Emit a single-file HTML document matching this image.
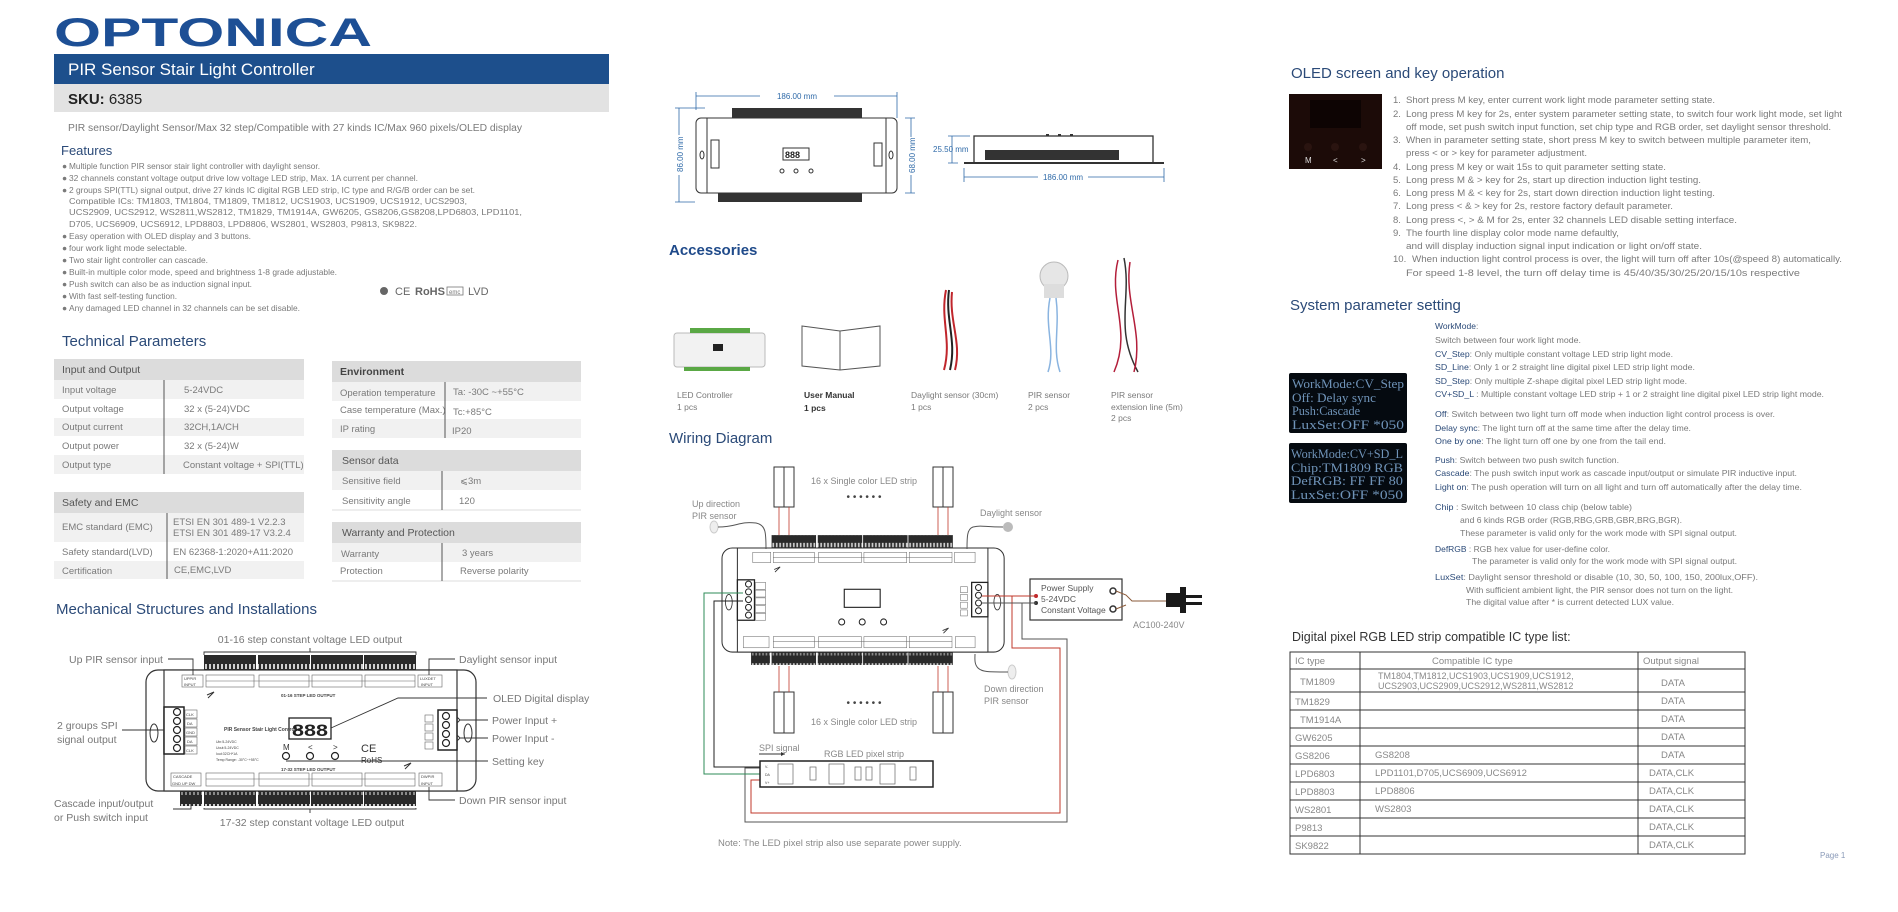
<!DOCTYPE html>
<html><head><meta charset="utf-8"><style>
html,body{margin:0;padding:0;background:#fff;}
svg{display:block;font-family:"Liberation Sans",sans-serif;}
.g{fill:#7a7a7a;}
.h{fill:#2b4a78;}
.lb{fill:#2b4a78;}
</style></head><body>
<svg width="1898" height="912" viewBox="0 0 1898 912" xmlns="http://www.w3.org/2000/svg">
<defs>
<pattern id="tp" width="4" height="20" patternUnits="userSpaceOnUse"><rect width="4" height="20" fill="#2a2a2a"/><rect x="1" y="4" width="2" height="5" fill="#cfcfcf"/><rect x="1" y="12" width="2" height="3" fill="#8a8a8a"/></pattern>
<pattern id="tp2" width="3" height="20" patternUnits="userSpaceOnUse"><rect width="3" height="20" fill="#333"/><rect x="1" y="2" width="1" height="4" fill="#ddd"/></pattern>
<g id="dev">
<rect x="146" y="670" width="330" height="121" rx="12" fill="#fff" stroke="#333" stroke-width="1.2"/>
<rect x="164" y="670" width="293" height="121" fill="#fff" stroke="#333" stroke-width="1.2"/>
<ellipse cx="154" cy="733" rx="4" ry="9" fill="none" stroke="#333"/>
<ellipse cx="468" cy="733" rx="4" ry="9" fill="none" stroke="#333"/>
<rect x="204" y="655" width="52" height="15" fill="url(#tp)"/><rect x="258" y="655" width="52" height="15" fill="url(#tp)"/><rect x="311" y="655" width="52" height="15" fill="url(#tp)"/><rect x="364" y="655" width="52" height="15" fill="url(#tp)"/>
<rect x="204" y="791" width="52" height="15" fill="url(#tp)"/><rect x="258" y="791" width="52" height="15" fill="url(#tp)"/><rect x="311" y="791" width="52" height="15" fill="url(#tp)"/><rect x="364" y="791" width="52" height="15" fill="url(#tp)"/>
<rect x="180" y="791" width="22" height="15" fill="url(#tp)"/>
<g fill="none" stroke="#666" stroke-width="0.6">
<rect x="182" y="675" width="21" height="12"/><rect x="418" y="675" width="24" height="12"/>
<rect x="206" y="675" width="48" height="12"/><rect x="259" y="675" width="50" height="12"/><rect x="312" y="675" width="50" height="12"/><rect x="365" y="675" width="50" height="12"/>
<line x1="206" y1="681" x2="415" y2="681"/>
<rect x="171" y="773" width="30" height="13"/><rect x="419" y="773" width="23" height="13"/>
<rect x="206" y="773" width="48" height="13"/><rect x="259" y="773" width="50" height="13"/><rect x="312" y="773" width="50" height="13"/><rect x="365" y="773" width="50" height="13"/>
<line x1="206" y1="779" x2="415" y2="779"/>
<rect x="185" y="710" width="12" height="8"/><rect x="185" y="719" width="12" height="8"/><rect x="185" y="728" width="12" height="8"/><rect x="185" y="737" width="12" height="8"/><rect x="185" y="746" width="12" height="8"/>
<rect x="425" y="715" width="8" height="7"/><rect x="425" y="724" width="8" height="7"/><rect x="425" y="733" width="8" height="7"/><rect x="425" y="742" width="8" height="7"/>
</g>
<rect x="164" y="707" width="20" height="47" fill="#fff" stroke="#222" stroke-width="1.5"/>
<g fill="#fff" stroke="#222" stroke-width="1.2"><circle cx="177" cy="712" r="3.5"/><circle cx="177" cy="721" r="3.5"/><circle cx="177" cy="730" r="3.5"/><circle cx="177" cy="739" r="3.5"/><circle cx="177" cy="748" r="3.5"/></g>
<rect x="438" y="710" width="19" height="40" fill="#fff" stroke="#222" stroke-width="1.5"/>
<g fill="#fff" stroke="#222" stroke-width="1.2"><circle cx="446" cy="716" r="3.5"/><circle cx="446" cy="725" r="3.5"/><circle cx="446" cy="734" r="3.5"/><circle cx="446" cy="743" r="3.5"/></g>
<rect x="289" y="718" width="42" height="21" fill="#fff" stroke="#222" stroke-width="1.3"/>
<g fill="none" stroke="#222" stroke-width="1.2"><circle cx="286" cy="756" r="3.5"/><circle cx="310" cy="756" r="3.5"/><circle cx="335" cy="756" r="3.5"/></g>
<path d="M207 695 l7 -3 l-6 6" fill="none" stroke="#333"/>
<path d="M404 766 l7 -3 l-6 6" fill="none" stroke="#333"/>
</g>
</defs>

<!-- LOGO / header -->
<text x="54" y="46" font-size="40" font-weight="bold" fill="#1d4f95" textLength="318" lengthAdjust="spacingAndGlyphs">OPTONICA</text>
<rect x="54" y="54" width="555" height="30" fill="#1d4f8c"/>
<text x="68" y="75" font-size="17" fill="#fff">PIR Sensor Stair Light Controller</text>
<rect x="54" y="84" width="555" height="28" fill="#e2e2e2"/>
<text x="68" y="104" font-size="15" fill="#222"><tspan font-weight="bold">SKU:</tspan> 6385</text>
<text x="68" y="131" font-size="10" class="g" textLength="454" lengthAdjust="spacingAndGlyphs">PIR sensor/Daylight Sensor/Max 32 step/Compatible with 27 kinds IC/Max 960 pixels/OLED display</text>
<text x="61" y="155" font-size="13" class="h">Features</text>
<g font-size="8.5" class="g">
<text x="62" y="169">●</text><text x="69" y="169" textLength="251" lengthAdjust="spacingAndGlyphs">Multiple function PIR sensor stair light controller with daylight sensor.</text>
<text x="62" y="181">●</text><text x="69" y="181" textLength="349" lengthAdjust="spacingAndGlyphs">32 channels constant voltage output drive low voltage LED strip, Max. 1A current per channel.</text>
<text x="62" y="193">●</text><text x="69" y="193" textLength="406" lengthAdjust="spacingAndGlyphs">2 groups SPI(TTL) signal output, drive 27 kinds IC digital RGB LED strip, IC type and R/G/B order can be set.</text>
<text x="69" y="204" textLength="398" lengthAdjust="spacingAndGlyphs">Compatible ICs: TM1803, TM1804, TM1809, TM1812, UCS1903, UCS1909, UCS1912, UCS2903,</text>
<text x="69" y="215" textLength="453" lengthAdjust="spacingAndGlyphs">UCS2909, UCS2912, WS2811,WS2812, TM1829, TM1914A, GW6205, GS8206,GS8208,LPD6803, LPD1101,</text>
<text x="69" y="227" textLength="348" lengthAdjust="spacingAndGlyphs">D705, UCS6909, UCS6912, LPD8803, LPD8806, WS2801, WS2803, P9813, SK9822.</text>
<text x="62" y="239">●</text><text x="69" y="239" textLength="182" lengthAdjust="spacingAndGlyphs">Easy operation with OLED display and 3 buttons.</text>
<text x="62" y="251">●</text><text x="69" y="251" textLength="118" lengthAdjust="spacingAndGlyphs">four work light mode selectable.</text>
<text x="62" y="263">●</text><text x="69" y="263" textLength="139" lengthAdjust="spacingAndGlyphs">Two stair light controller can cascade.</text>
<text x="62" y="275">●</text><text x="69" y="275" textLength="268" lengthAdjust="spacingAndGlyphs">Built-in multiple color mode, speed and brightness 1-8 grade adjustable.</text>
<text x="62" y="287">●</text><text x="69" y="287" textLength="183" lengthAdjust="spacingAndGlyphs">Push switch can also be as induction signal input.</text>
<text x="62" y="299">●</text><text x="69" y="299" textLength="108" lengthAdjust="spacingAndGlyphs">With fast self-testing function.</text>
<text x="62" y="311">●</text><text x="69" y="311" textLength="231" lengthAdjust="spacingAndGlyphs">Any damaged LED channel in 32 channels can be set disable.</text>
</g>
<circle cx="384" cy="291" r="4" fill="#666"/>
<text x="395" y="295" font-size="11" fill="#666">CE</text>
<text x="415" y="295" font-size="11" font-weight="bold" fill="#666">RoHS</text>
<rect x="447" y="287" width="16" height="8" fill="none" stroke="#777" stroke-width="0.8"/><text x="449" y="294" font-size="6" fill="#777">emc</text>
<text x="468" y="295" font-size="11" fill="#666">LVD</text>

<!-- Technical Parameters -->
<text x="62" y="346" font-size="15" class="h">Technical Parameters</text>
<g font-size="9.5" class="g">
<rect x="54" y="359" width="250" height="21" fill="#dcdcdc"/><text x="62" y="373" fill="#555" font-size="10.5">Input and Output</text>
<rect x="54" y="380" width="250" height="19" fill="#f1f1f1"/><rect x="54" y="418" width="250" height="18" fill="#f1f1f1"/><rect x="54" y="455" width="250" height="19" fill="#f1f1f1"/>
<line x1="164" y1="380" x2="164" y2="474" stroke="#555"/>
<text x="62" y="393">Input voltage</text><text x="184" y="393">5-24VDC</text>
<text x="62" y="412">Output voltage</text><text x="184" y="412">32 x (5-24)VDC</text>
<text x="62" y="430">Output current</text><text x="184" y="430">32CH,1A/CH</text>
<text x="62" y="449">Output power</text><text x="184" y="449">32 x (5-24)W</text>
<text x="62" y="468">Output type</text><text x="183" y="468">Constant voltage + SPI(TTL)</text>

<rect x="54" y="492" width="250" height="21" fill="#dcdcdc"/><text x="62" y="506" fill="#555" font-size="10.5">Safety and EMC</text>
<rect x="54" y="513" width="250" height="29" fill="#f1f1f1"/><rect x="54" y="561" width="250" height="18" fill="#f1f1f1"/>
<line x1="167" y1="513" x2="167" y2="579" stroke="#555"/>
<text x="62" y="530">EMC standard (EMC)</text><text x="173" y="525">ETSI EN 301 489-1 V2.2.3</text><text x="173" y="536">ETSI EN 301 489-17 V3.2.4</text>
<text x="62" y="555">Safety standard(LVD)</text><text x="173" y="555">EN 62368-1:2020+A11:2020</text>
<text x="62" y="574">Certification</text><text x="174" y="573">CE,EMC,LVD</text>

<rect x="332" y="361" width="249" height="21" fill="#dcdcdc"/><text x="340" y="375" fill="#444" font-size="10.5" font-weight="bold">Environment</text>
<rect x="332" y="382" width="249" height="19" fill="#f1f1f1"/><rect x="332" y="419" width="249" height="19" fill="#f1f1f1"/>
<line x1="445" y1="382" x2="445" y2="438" stroke="#555"/>
<text x="340" y="396">Operation temperature</text><text x="453" y="395">Ta: -30C ~+55°C</text>
<text x="340" y="413">Case temperature (Max.)</text><text x="453" y="415">Tc:+85°C</text>
<text x="340" y="432">IP rating</text><text x="452" y="434">IP20</text>

<rect x="332" y="450" width="249" height="21" fill="#dcdcdc"/><text x="342" y="464" fill="#555" font-size="10.5">Sensor data</text>
<rect x="332" y="471" width="249" height="19" fill="#f1f1f1"/><rect x="332" y="509" width="249" height="2" fill="#eee"/>
<line x1="442" y1="471" x2="442" y2="510" stroke="#555"/>
<text x="342" y="484">Sensitive field</text><text x="460" y="484">⩽3m</text>
<text x="342" y="504">Sensitivity angle</text><text x="459" y="504">120</text>

<rect x="332" y="522" width="249" height="21" fill="#dcdcdc"/><text x="342" y="536" fill="#555" font-size="10.5">Warranty and Protection</text>
<rect x="332" y="543" width="249" height="19" fill="#f1f1f1"/><rect x="332" y="580" width="249" height="2" fill="#eee"/>
<line x1="442" y1="543" x2="442" y2="581" stroke="#555"/>
<text x="341" y="557">Warranty</text><text x="462" y="556">3 years</text>
<text x="340" y="574">Protection</text><text x="460" y="574">Reverse polarity</text>
</g>

<!-- Mechanical -->
<text x="56" y="614" font-size="15" class="h">Mechanical Structures and Installations</text>
<use href="#dev"/>
<g font-size="4" fill="#444">
<text x="184" y="680">UPPIR</text><text x="184" y="686">INPUT</text>
<text x="420" y="680">LUXDET</text><text x="421" y="686">INPUT</text>
<text x="281" y="697" font-size="4.5" font-weight="bold">01-16 STEP LED OUTPUT</text>
<text x="224" y="731" font-size="5" font-weight="bold">PIR Sensor Stair Light Controller</text>
<text x="216" y="743" font-size="3.5">Uin:5-24VDC</text><text x="216" y="749" font-size="3.5">Uout:5-24VDC</text><text x="216" y="755" font-size="3.5">Iout:32CH*1A</text><text x="216" y="761" font-size="3.5">Temp Range: -30°C~+55°C</text>
<text x="281" y="771" font-size="4.5" font-weight="bold">17-32 STEP LED OUTPUT</text>
<text x="173" y="778">CASCADE</text><text x="172" y="785">GND UP DW</text>
<text x="421" y="778">DWPIR</text><text x="421" y="785">INPUT</text>
<text x="186" y="716">CLK</text><text x="187" y="725">DA</text><text x="186" y="734">GND</text><text x="187" y="743">DA</text><text x="186" y="752">CLK</text>
</g>
<text x="292" y="736" font-size="17" font-weight="bold" fill="#222" textLength="36" lengthAdjust="spacingAndGlyphs">888</text>
<g font-size="8" fill="#333"><text x="283" y="750">M</text><text x="308" y="750">&lt;</text><text x="333" y="750">&gt;</text></g>
<text x="361" y="752" font-size="11" fill="#333">CE</text><text x="361" y="763" font-size="8" fill="#333">RoHS</text>
<g font-size="10.5" fill="#777">
<text x="310" y="643" text-anchor="middle">01-16 step constant voltage LED output</text>
<text x="69" y="663">Up PIR sensor input</text>
<text x="459" y="663">Daylight sensor input</text>
<text x="493" y="702">OLED Digital display</text>
<text x="492" y="724">Power Input +</text>
<text x="492" y="742">Power Input -</text>
<text x="492" y="765">Setting key</text>
<text x="57" y="729">2 groups SPI</text>
<text x="57" y="743">signal output</text>
<text x="54" y="807">Cascade input/output</text>
<text x="54" y="821">or Push switch input</text>
<text x="459" y="804">Down PIR sensor input</text>
<text x="312" y="826" text-anchor="middle">17-32 step constant voltage LED output</text>
</g>
<g fill="none" stroke="#333" stroke-width="0.9">
<path d="M204 655 v-3 h212 v3 M310 652 v-4"/>
<path d="M204 808 v1 h212 v-1 M310 809 v4"/>
<path d="M168 659 h25 v16"/>
<path d="M455 659 h-26 v16"/>
<path d="M487 698 h-89 l-67 30"/>
<path d="M488 720 h-28 l-3 -3 M460 720 l-3 3"/>
<path d="M488 738 h-28 l-3 -3 M460 738 l-3 3"/>
<path d="M488 761 h-202"/>
<path d="M122 730 h42"/>
<path d="M173 809 h18 v-5"/>
<path d="M455 800 h-26 v-13"/>
</g>

<!-- Dimension drawings -->
<g stroke="#2f6aa8" stroke-width="0.8" fill="none">
<path d="M696 96 h201 M696 92 v18 M897 92 v26"/>
<path d="M679 108 v94 M675 108 h30 M675 202 h20"/>
<path d="M911 118 v75 M905 118 h10 M905 193 h10"/>
<path d="M952 136 v27 M948 136 h22 M948 163 h10"/>
<path d="M964 177 h200 M964 168 v14 M1164 168 v14"/>
</g>
<rect x="760" y="91" width="74" height="10" fill="#fff"/>
<text x="797" y="99" font-size="8" fill="#2f6aa8" text-anchor="middle">186.00 mm</text>
<rect x="1038" y="172" width="50" height="10" fill="#fff"/>
<text x="1063" y="180" font-size="8" fill="#2f6aa8" text-anchor="middle">186.00 mm</text>
<text x="933" y="152" font-size="8" fill="#2f6aa8">25.50 mm</text>
<rect x="674" y="135" width="10" height="40" fill="#fff"/><rect x="906" y="137" width="10" height="38" fill="#fff"/>
<text transform="translate(683,172) rotate(-90)" font-size="8" fill="#2f6aa8">86.00 mm</text>
<text transform="translate(915,173) rotate(-90)" font-size="8" fill="#2f6aa8">68.00 mm</text>
<rect x="696" y="118" width="201" height="75" rx="5" fill="#fff" stroke="#333"/>
<rect x="707" y="118" width="179" height="75" fill="#fff" stroke="#333"/>
<rect x="732" y="108" width="130" height="10" fill="url(#tp2)"/>
<rect x="718" y="193" width="144" height="9" fill="url(#tp2)"/>
<rect x="711" y="140" width="8" height="28" fill="#fff" stroke="#333"/><rect x="874" y="143" width="8" height="23" fill="#fff" stroke="#333"/>
<ellipse cx="702" cy="155" rx="2" ry="4" fill="none" stroke="#333"/><ellipse cx="891" cy="155" rx="2" ry="4" fill="none" stroke="#333"/>
<rect x="783" y="148" width="26" height="12" fill="#fff" stroke="#333"/><text x="785" y="158" font-size="9" font-weight="bold" fill="#222">888</text>
<g fill="none" stroke="#333"><circle cx="782" cy="171" r="2"/><circle cx="796" cy="171" r="2"/><circle cx="811" cy="171" r="2"/></g>
<rect x="974" y="136" width="179" height="27" fill="#fff" stroke="#333" stroke-width="1.3"/>
<rect x="964" y="162" width="200" height="2" fill="#333"/>
<rect x="985" y="150" width="134" height="10" fill="url(#tp2)"/>
<g fill="#333"><rect x="1046" y="134" width="3" height="2"/><rect x="1058" y="134" width="3" height="2"/><rect x="1070" y="134" width="3" height="2"/></g>

<!-- Accessories -->
<text x="669" y="255" font-size="15" font-weight="bold" fill="#1f4a8a">Accessories</text>
<rect x="674" y="333" width="91" height="34" rx="3" fill="#f2f2f2" stroke="#bbb"/>
<rect x="690" y="328" width="60" height="5" fill="#5aa845"/><rect x="684" y="367" width="66" height="4" fill="#5aa845"/>
<rect x="713" y="344" width="10" height="7" fill="#222"/>
<path d="M802 326 l38 5 l40 -5 v40 l-40 4 l-38 -4z M840 331 v39" fill="#fff" stroke="#555"/>
<g fill="none" stroke-width="2"><path d="M946 290 c-6 30 6 50 -2 80" stroke="#c0262c"/><path d="M949 290 c-4 30 8 50 1 80" stroke="#222"/><path d="M952 292 c-3 30 10 50 3 78" stroke="#c0262c"/></g>
<circle cx="1054" cy="276" r="14" fill="#e6e6e6" stroke="#bbb"/><rect x="1044" y="284" width="20" height="14" fill="#ddd"/>
<g fill="none" stroke="#8ab4e0" stroke-width="1.5"><path d="M1050 298 c-6 30 6 50 -2 74"/><path d="M1056 298 c4 30 -4 50 4 74"/></g>
<g fill="none" stroke-width="1.5"><path d="M1118 260 c-10 40 14 70 -4 112" stroke="#b31e3a"/><path d="M1124 258 c8 40 -10 70 14 114" stroke="#333"/><path d="M1130 262 c-6 40 14 70 4 110" stroke="#b31e3a"/></g>
<g font-size="8.5" class="g">
<text x="677" y="398">LED Controller</text><text x="677" y="410">1 pcs</text>
<text x="804" y="398" fill="#333" font-weight="bold">User Manual</text><text x="804" y="411" fill="#333" font-weight="bold">1 pcs</text>
<text x="911" y="398">Daylight sensor (30cm)</text><text x="911" y="410">1 pcs</text>
<text x="1028" y="398">PIR sensor</text><text x="1028" y="410">2 pcs</text>
<text x="1111" y="398">PIR sensor</text><text x="1111" y="410">extension line (5m)</text><text x="1111" y="421">2 pcs</text>
</g>

<!-- Wiring diagram -->
<text x="669" y="443" font-size="15" class="h">Wiring Diagram</text>
<g fill="#fff" stroke="#333"><rect x="774" y="467" width="10" height="40"/><rect x="784" y="467" width="10" height="40"/><rect x="933" y="467" width="10" height="40"/><rect x="943" y="467" width="10" height="40"/>
<rect x="774" y="692" width="10" height="41"/><rect x="784" y="692" width="10" height="41"/><rect x="933" y="692" width="10" height="41"/><rect x="943" y="692" width="10" height="41"/></g>
<g fill="none" stroke="#c0392b" stroke-width="0.8"><path d="M779 507 v28 M789 507 v28 M938 507 v28 M948 507 v28 M779 666 v26 M789 666 v26 M938 666 v26 M948 666 v26"/></g>
<use href="#dev" transform="translate(722,548) scale(0.855,0.86) translate(-146,-670)"/>
<g font-size="9" fill="#888">
<text x="864" y="484" text-anchor="middle">16 x Single color LED strip</text>
<text x="864" y="500" text-anchor="middle" font-size="10" fill="#444">• • • • • •</text>
<text x="692" y="507">Up direction</text><text x="692" y="519">PIR sensor</text>
<text x="980" y="516">Daylight sensor</text>
<text x="984" y="692">Down direction</text><text x="984" y="704">PIR sensor</text>
<text x="864" y="706" text-anchor="middle" font-size="10" fill="#444">• • • • • •</text>
<text x="864" y="725" text-anchor="middle">16 x Single color LED strip</text>
<text x="759" y="751">SPI signal</text>
<text x="864" y="757" text-anchor="middle">RGB LED pixel strip</text>
<text x="1133" y="628">AC100-240V</text>
<text x="718" y="846" font-size="9.5">Note:  The LED pixel strip also use separate power supply.</text>
</g>
<path d="M759 754 h26" stroke="#333"/><path d="M785 754 l-4 -2 v4z" fill="#333"/>
<ellipse cx="714" cy="527" rx="4" ry="6" fill="#eee" stroke="#ccc"/>
<path d="M718 527 c20 0 20 -6 38 -4 c10 2 10 10 10 26" fill="none" stroke="#555"/>
<circle cx="1008" cy="527" r="5" fill="#bbb"/>
<path d="M1003 527 c-20 0 -20 -2 -30 0 c-6 2 -6 10 -6 22" fill="none" stroke="#555"/>
<ellipse cx="1012" cy="672" rx="4" ry="7" fill="#eee" stroke="#ccc"/>
<path d="M1008 672 c-20 0 -26 0 -30 -4 c-4 -4 -3 -10 -3 -14" fill="none" stroke="#555"/>
<rect x="1030" y="579" width="92" height="41" fill="#fff" stroke="#333" stroke-width="1.2"/>
<g font-size="8.5" fill="#555"><text x="1041" y="591">Power Supply</text><text x="1041" y="602">5-24VDC</text><text x="1041" y="613">Constant Voltage</text></g>
<circle cx="1113" cy="591" r="3" fill="#fff" stroke="#333" stroke-width="1.5"/><circle cx="1113" cy="609" r="3" fill="#fff" stroke="#333" stroke-width="1.5"/>
<path d="M1116 591 l10 4 l6 6 l34 0 M1116 609 l10 -4" fill="none" stroke="#8a5a3a"/>
<path d="M1166 593 h14 v-6 h6 v26 h-6 v-6 h-14z" fill="#1a1a1a"/><rect x="1186" y="595" width="16" height="3" fill="#1a1a1a"/><rect x="1186" y="602" width="16" height="3" fill="#1a1a1a"/>
<circle cx="1036" cy="596" r="2" fill="#c0262c"/><circle cx="1036" cy="603" r="2" fill="#333"/>
<path d="M982 596 h54 M1012 596 v52 h48 v165 h-309 v-33 h9" fill="none" stroke="#c0392b" stroke-width="1"/>
<path d="M982 603 h54 M1022 603 v36 h45 v183 h-322 v-54 h15" fill="none" stroke="#555" stroke-width="1"/>
<path d="M868 593 h0" stroke="#333"/>
<path d="M743 593 h-39 v181 h58" fill="none" stroke="#2e8b57" stroke-width="1"/>
<path d="M743 601 h-29 v166 h48" fill="none" stroke="#222" stroke-width="1"/>
<rect x="760" y="761" width="173" height="26" fill="#fff" stroke="#222" stroke-width="1.5"/>
<g fill="none" stroke="#666" stroke-width="0.7"><rect x="778" y="764" width="15" height="20"/><rect x="810" y="767" width="6" height="13"/><rect x="829" y="764" width="15" height="20"/><rect x="855" y="767" width="6" height="13"/><rect x="866" y="767" width="6" height="13"/><rect x="880" y="764" width="15" height="20"/><rect x="910" y="767" width="6" height="13"/></g>
<g font-size="3.5" fill="#444"><text x="765" y="768">V-</text><text x="765" y="776">DA</text><text x="765" y="784">V+</text></g>

<!-- OLED screen -->
<text x="1291" y="78" font-size="15" class="h">OLED screen and key operation</text>
<rect x="1289" y="94" width="93" height="75" fill="#1c0b08"/>
<rect x="1310" y="100" width="51" height="28" fill="#0d0403"/>
<g fill="#2a1410"><circle cx="1308" cy="147" r="4"/><circle cx="1335" cy="147" r="4"/><circle cx="1363" cy="147" r="4"/></g>
<g font-size="8" fill="#ddd"><text x="1305" y="163">M</text><text x="1333" y="163">&lt;</text><text x="1361" y="163">&gt;</text></g>
<g font-size="9.5" class="g">
<text x="1393" y="103">1.</text><text x="1406" y="103" textLength="309" lengthAdjust="spacingAndGlyphs">Short press M key, enter current work light mode parameter setting state.</text>
<text x="1393" y="117">2.</text><text x="1406" y="117" textLength="436" lengthAdjust="spacingAndGlyphs">Long press M key for 2s, enter system parameter setting state, to switch four work light mode, set light</text>
<text x="1406" y="130" textLength="425" lengthAdjust="spacingAndGlyphs">off mode, set push switch input function, set chip type and RGB order, set daylight sensor threshold.</text>
<text x="1393" y="143">3.</text><text x="1406" y="143" textLength="405" lengthAdjust="spacingAndGlyphs">When in parameter setting state, short press M key to switch between multiple parameter item,</text>
<text x="1406" y="156" textLength="181" lengthAdjust="spacingAndGlyphs">press &lt; or &gt; key for parameter adjustment.</text>
<text x="1393" y="170">4.</text><text x="1406" y="170" textLength="260" lengthAdjust="spacingAndGlyphs">Long press M key or wait 15s to quit parameter setting state.</text>
<text x="1393" y="183">5.</text><text x="1406" y="183" textLength="295" lengthAdjust="spacingAndGlyphs">Long press M &amp; &gt; key for 2s, start up direction induction light testing.</text>
<text x="1393" y="196">6.</text><text x="1406" y="196" textLength="309" lengthAdjust="spacingAndGlyphs">Long press M &amp; &lt; key for 2s, start down direction induction light testing.</text>
<text x="1393" y="209">7.</text><text x="1406" y="209" textLength="267" lengthAdjust="spacingAndGlyphs">Long press &lt; &amp; &gt; key for 2s, restore factory default parameter.</text>
<text x="1393" y="223">8.</text><text x="1406" y="223" textLength="331" lengthAdjust="spacingAndGlyphs">Long press &lt;, &gt; &amp; M  for 2s, enter 32 channels LED disable setting interface.</text>
<text x="1393" y="236">9.</text><text x="1406" y="236" textLength="213" lengthAdjust="spacingAndGlyphs">The fourth line display color mode name defaultly,</text>
<text x="1406" y="249" textLength="296" lengthAdjust="spacingAndGlyphs">and will display induction signal input indication or light on/off state.</text>
<text x="1393" y="262">10.</text><text x="1412" y="262" textLength="430" lengthAdjust="spacingAndGlyphs">When induction light control process is over, the light will turn off after 10s(@speed 8) automatically.</text>
<text x="1406" y="276" textLength="394" lengthAdjust="spacingAndGlyphs">For speed 1-8 level, the turn off delay time is 45/40/35/30/25/20/15/10s respective</text>
</g>

<!-- System parameter -->
<text x="1290" y="310" font-size="15" class="h">System parameter setting</text>
<rect x="1289" y="373" width="118" height="60" rx="2" fill="#050a10"/>
<rect x="1289" y="443" width="118" height="60" rx="2" fill="#050a10"/>
<g font-family="Liberation Serif, serif" font-size="12.5" fill="#6f93b8">
<text x="1292" y="388" textLength="112" lengthAdjust="spacingAndGlyphs">WorkMode:CV_Step</text>
<text x="1292" y="402" textLength="84" lengthAdjust="spacingAndGlyphs">Off: Delay sync</text>
<text x="1292" y="415" textLength="68" lengthAdjust="spacingAndGlyphs">Push:Cascade</text>
<text x="1292" y="429" textLength="112" lengthAdjust="spacingAndGlyphs">LuxSet:OFF  *050</text>
<text x="1291" y="458" textLength="112" lengthAdjust="spacingAndGlyphs">WorkMode:CV+SD_L</text>
<text x="1291" y="472" textLength="112" lengthAdjust="spacingAndGlyphs">Chip:TM1809  RGB</text>
<text x="1291" y="485" textLength="112" lengthAdjust="spacingAndGlyphs">DefRGB: FF FF 80</text>
<text x="1291" y="499" textLength="112" lengthAdjust="spacingAndGlyphs">LuxSet:OFF  *050</text>
</g>
<g font-size="8.5" class="g">
<text x="1435" y="329"><tspan class="lb">WorkMode</tspan>:</text>
<text x="1435" y="343" textLength="146" lengthAdjust="spacingAndGlyphs">Switch between four work light mode.</text>
<text x="1435" y="357" textLength="238" lengthAdjust="spacingAndGlyphs"><tspan class="lb">CV_Step</tspan>: Only multiple constant voltage LED strip light mode.</text>
<text x="1435" y="370" textLength="260" lengthAdjust="spacingAndGlyphs"><tspan class="lb">SD_Line</tspan>: Only 1 or 2 straight line digital pixel LED strip light mode.</text>
<text x="1435" y="384" textLength="252" lengthAdjust="spacingAndGlyphs"><tspan class="lb">SD_Step</tspan>: Only multiple Z-shape digital pixel LED strip light mode.</text>
<text x="1435" y="397" textLength="389" lengthAdjust="spacingAndGlyphs"><tspan class="lb">CV+SD_L</tspan> : Multiple constant voltage LED strip + 1 or 2 straight line digital pixel LED strip light mode.</text>
<text x="1435" y="417" textLength="340" lengthAdjust="spacingAndGlyphs"><tspan class="lb">Off</tspan>: Switch between two light turn off mode when induction light control process is over.</text>
<text x="1435" y="431" textLength="256" lengthAdjust="spacingAndGlyphs"><tspan class="lb">Delay sync</tspan>: The light turn off at the same time after the delay time.</text>
<text x="1435" y="444" textLength="231" lengthAdjust="spacingAndGlyphs"><tspan class="lb">One by one</tspan>: The light turn off one by one from the tail end.</text>
<text x="1435" y="463" textLength="184" lengthAdjust="spacingAndGlyphs"><tspan class="lb">Push</tspan>: Switch between two push switch function.</text>
<text x="1435" y="476" textLength="362" lengthAdjust="spacingAndGlyphs"><tspan class="lb">Cascade</tspan>: The push switch input work as cascade input/output or simulate PIR inductive input.</text>
<text x="1435" y="490" textLength="367" lengthAdjust="spacingAndGlyphs"><tspan class="lb">Light on</tspan>: The push operation will turn on all light and turn off automatically after the delay time.</text>
<text x="1435" y="510" textLength="197" lengthAdjust="spacingAndGlyphs"><tspan class="lb">Chip</tspan> : Switch between 10 class chip (below table)</text>
<text x="1460" y="523" textLength="222" lengthAdjust="spacingAndGlyphs">and 6 kinds RGB order (RGB,RBG,GRB,GBR,BRG,BGR).</text>
<text x="1460" y="536" textLength="277" lengthAdjust="spacingAndGlyphs">These parameter is valid only for the work mode with SPI signal output.</text>
<text x="1435" y="552" textLength="175" lengthAdjust="spacingAndGlyphs"><tspan class="lb">DefRGB</tspan> : RGB hex value for user-define color.</text>
<text x="1472" y="564" textLength="265" lengthAdjust="spacingAndGlyphs">The parameter is valid only for the work mode with SPI signal output.</text>
<text x="1435" y="580" textLength="323" lengthAdjust="spacingAndGlyphs"><tspan class="lb">LuxSet</tspan>: Daylight sensor threshold or disable (10, 30, 50, 100, 150, 200lux,OFF).</text>
<text x="1466" y="593" textLength="267" lengthAdjust="spacingAndGlyphs">With sufficient ambient light, the PIR sensor does not turn on the light.</text>
<text x="1466" y="605" textLength="208" lengthAdjust="spacingAndGlyphs">The digital value after * is current detected LUX value.</text>
</g>

<!-- IC table -->
<text x="1292" y="641" font-size="12.5" fill="#333">Digital pixel RGB LED strip compatible IC type list:</text>
<g fill="none" stroke="#333" stroke-width="1">
<rect x="1290" y="652" width="455" height="202"/>
<line x1="1360" y1="652" x2="1360" y2="854"/><line x1="1638" y1="652" x2="1638" y2="854"/>
<path d="M1290 669 h455 M1290 692 h455 M1290 710 h455 M1290 728 h455 M1290 746 h455 M1290 764 h455 M1290 782 h455 M1290 800 h455 M1290 818 h455 M1290 836 h455"/>
</g>
<g font-size="9.5" fill="#888">
<text x="1295" y="664">IC type</text><text x="1432" y="664">Compatible IC type</text><text x="1643" y="664">Output signal</text>
<text x="1300" y="685">TM1809</text><text x="1378" y="679" font-size="9">TM1804,TM1812,UCS1903,UCS1909,UCS1912,</text><text x="1378" y="689" font-size="9">UCS2903,UCS2909,UCS2912,WS2811,WS2812</text><text x="1661" y="686">DATA</text>
<text x="1295" y="705">TM1829</text><text x="1661" y="704">DATA</text>
<text x="1300" y="723">TM1914A</text><text x="1661" y="722">DATA</text>
<text x="1295" y="741">GW6205</text><text x="1661" y="740">DATA</text>
<text x="1295" y="759">GS8206</text><text x="1375" y="758">GS8208</text><text x="1661" y="758">DATA</text>
<text x="1295" y="777">LPD6803</text><text x="1375" y="776">LPD1101,D705,UCS6909,UCS6912</text><text x="1649" y="776">DATA,CLK</text>
<text x="1295" y="795">LPD8803</text><text x="1375" y="794">LPD8806</text><text x="1649" y="794">DATA,CLK</text>
<text x="1295" y="813">WS2801</text><text x="1375" y="812">WS2803</text><text x="1649" y="812">DATA,CLK</text>
<text x="1295" y="831">P9813</text><text x="1649" y="830">DATA,CLK</text>
<text x="1295" y="849">SK9822</text><text x="1649" y="848">DATA,CLK</text>
</g>
<text x="1820" y="858" font-size="8" fill="#8a9ab8">Page 1</text>
</svg>
</body></html>
